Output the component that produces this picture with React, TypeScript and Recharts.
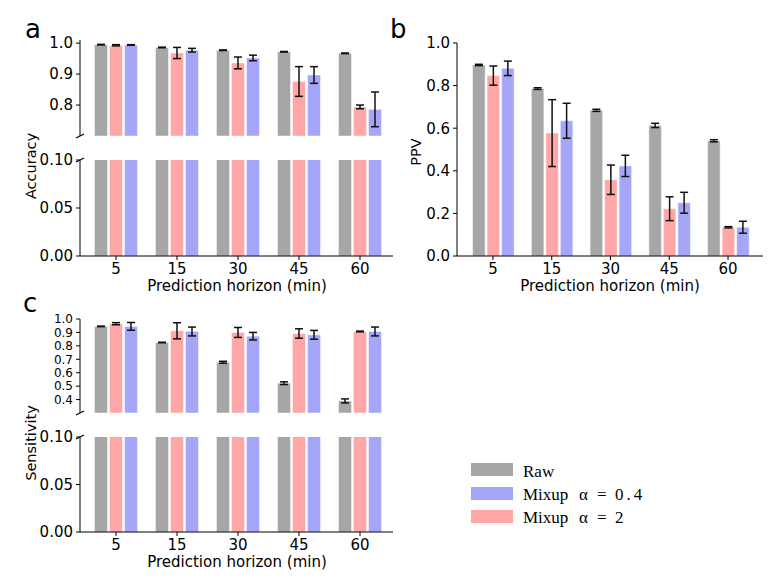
import React from 'react';
import { BarChart, Bar, XAxis, YAxis, ErrorBar } from 'recharts';

const horizons = ['5', '15', '30', '45', '60'];

// Panel a: Accuracy
const accRaw = [0.995, 0.986, 0.977, 0.972, 0.967];
const accRawErr = [0.001, 0.001, 0.001, 0.001, 0.001];
const accMix2 = [0.993, 0.968, 0.936, 0.876, 0.794];
const accMix2Err = [0.002, 0.018, 0.019, 0.048, 0.006];
const accMix04 = [0.994, 0.977, 0.952, 0.897, 0.786];
const accMix04Err = [0.001, 0.006, 0.009, 0.027, 0.056];

// Panel b: PPV
const ppvRaw = [0.897, 0.786, 0.684, 0.613, 0.541];
const ppvRawErr = [0.003, 0.004, 0.005, 0.01, 0.005];
const ppvMix2 = [0.847, 0.577, 0.358, 0.222, 0.135];
const ppvMix2Err = [0.045, 0.157, 0.069, 0.056, 0.003];
const ppvMix04 = [0.881, 0.635, 0.423, 0.25, 0.135];
const ppvMix04Err = [0.034, 0.082, 0.05, 0.049, 0.028];

// Panel c: Sensitivity
const senRaw = [0.945, 0.825, 0.678, 0.522, 0.39];
const senRawErr = [0.002, 0.002, 0.007, 0.01, 0.015];
const senMix2 = [0.965, 0.912, 0.9, 0.892, 0.907];
const senMix2Err = [0.008, 0.06, 0.037, 0.035, 0.003];
const senMix04 = [0.945, 0.907, 0.872, 0.882, 0.907];
const senMix04Err = [0.029, 0.033, 0.028, 0.033, 0.033];

const ticksAccUpper = [0.8, 0.9, 1.0];
const ticksLower = [0, 0.05, 0.1];
const ticksPpv = [0, 0.2, 0.4, 0.6, 0.8, 1.0];
const ticksSenUpper = [0.4, 0.5, 0.6, 0.7, 0.8, 0.9, 1.0];

const GRAY = '#a6a6a6';
const PINK = '#ffa6a6';
const BLUE = '#a6a6f9';
const FONT = '"DejaVu Sans", sans-serif';
const SERIF = '"Liberation Serif", "Times New Roman", serif';

function makeRows(
  raw: number[], rawErr: number[], m2: number[], m2Err: number[], m04: number[], m04Err: number[]
) {
  return horizons.map((h, i) => ({
    h,
    raw: raw[i], rawErr: rawErr[i],
    mix2: m2[i], mix2Err: m2Err[i],
    mix04: m04[i], mix04Err: m04Err[i],
  }));
}

const accRows = makeRows(accRaw, accRawErr, accMix2, accMix2Err, accMix04, accMix04Err);
const ppvRows = makeRows(ppvRaw, ppvRawErr, ppvMix2, ppvMix2Err, ppvMix04, ppvMix04Err);
const senRows = makeRows(senRaw, senRawErr, senMix2, senMix2Err, senMix04, senMix04Err);

type PanelProps = {
  data: any[];
  plotLeft: number;
  plotTop: number;
  plotRight: number;
  plotBottom: number;
  domain: [number, number];
  ticks: number[];
  digits: number;
  showX: boolean;
  padding: { left: number; right: number };
  barSize: number;
  errors: boolean;
  yFont?: number;
};

function Panel(p: PanelProps) {
  const YW = 60;
  const XH = 30;
  const plotW = p.plotRight - p.plotLeft;
  const plotH = p.plotBottom - p.plotTop;
  const width = YW + plotW + 10;
  const height = 10 + plotH + (p.showX ? XH : 10);
  const xTick = { fontSize: 15, fill: '#000', fontFamily: FONT };
  const yTick = { fontSize: p.yFont ?? 15, fill: '#000', fontFamily: FONT };
  const err = (key: string) =>
    p.errors ? (
      <ErrorBar dataKey={key} width={4} strokeWidth={1.5} stroke="#111" direction="y" />
    ) : null;
  return (
    <div style={{ position: 'absolute', left: p.plotLeft - YW, top: p.plotTop - 10 }}>
      <BarChart
        width={width}
        height={height}
        data={p.data}
        margin={{ top: 10, right: 10, left: 0, bottom: p.showX ? 0 : 10 }}
        barGap={2}
        barSize={p.barSize}
      >
        <XAxis
          dataKey="h"
          hide={!p.showX}
          height={XH}
          padding={p.padding}
          interval={0}
          tickSize={4}
          tickMargin={3}
          tick={xTick}
          tickLine={{ stroke: '#000' }}
          axisLine={{ stroke: '#000' }}
        />
        <YAxis
          type="number"
          width={YW}
          domain={p.domain}
          allowDataOverflow
          ticks={p.ticks}
          interval={0}
          tickFormatter={(v: number) => v.toFixed(p.digits)}
          tickSize={4}
          tickMargin={3}
          tick={yTick}
          tickLine={{ stroke: '#000' }}
          axisLine={{ stroke: '#000' }}
        />
        <Bar dataKey="raw" fill={GRAY} stroke="#ffffff" strokeOpacity={0.45} isAnimationActive={false}>
          {err('rawErr')}
        </Bar>
        <Bar dataKey="mix2" fill={PINK} stroke="#ffffff" strokeOpacity={0.45} isAnimationActive={false}>
          {err('mix2Err')}
        </Bar>
        <Bar dataKey="mix04" fill={BLUE} stroke="#ffffff" strokeOpacity={0.45} isAnimationActive={false}>
          {err('mix04Err')}
        </Bar>
      </BarChart>
    </div>
  );
}

const padAC = { left: 5.5, right: 2.5 };
const padB = { left: 6.6, right: 5.6 };

function BreakMarks({ x, yUpper, yLower }: { x: number; yUpper: number; yLower: number }) {
  return (
    <g stroke="#000" strokeWidth={1.1}>
      <line x1={x - 4} y1={yUpper + 2} x2={x + 4} y2={yUpper - 2} />
      <line x1={x - 4} y1={yLower + 2} x2={x + 4} y2={yLower - 2} />
    </g>
  );
}

export default function App() {
  return (
    <div style={{ position: 'absolute', left: 0, top: 0, width: 776, height: 578, background: '#fff', overflow: 'hidden' }}>
      {/* Panel a */}
      <Panel data={accRows} plotLeft={80} plotTop={40} plotRight={393} plotBottom={136}
        domain={[0.7, 1.01]} ticks={ticksAccUpper} digits={1} showX={false} padding={padAC} barSize={13} errors />
      <Panel data={accRows} plotLeft={80} plotTop={160} plotRight={393} plotBottom={256}
        domain={[0, 0.1]} ticks={ticksLower} digits={2} showX padding={padAC} barSize={13} errors={false} />
      {/* Panel b */}
      <Panel data={ppvRows} plotLeft={457} plotTop={43} plotRight={763} plotBottom={256}
        domain={[0, 1.0]} ticks={ticksPpv} digits={1} showX padding={padB} barSize={12.5} errors />
      {/* Panel c */}
      <Panel data={senRows} plotLeft={80} plotTop={319} plotRight={393} plotBottom={413}
        domain={[0.3, 1.0]} ticks={ticksSenUpper} digits={1} showX={false} padding={padAC} barSize={13} errors yFont={12} />
      <Panel data={senRows} plotLeft={80} plotTop={437} plotRight={393} plotBottom={532}
        domain={[0, 0.1]} ticks={ticksLower} digits={2} showX padding={padAC} barSize={13} errors={false} />

      <svg width={776} height={578} style={{ position: 'absolute', left: 0, top: 0, pointerEvents: 'none' }}>
        <BreakMarks x={80} yUpper={136} yLower={160} />
        <BreakMarks x={80} yUpper={413} yLower={437} />

        <g fontFamily={FONT} fill="#000">
          <text x={25} y={38} fontSize={26}>a</text>
          <text x={390} y={38} fontSize={26}>b</text>
          <text x={23} y={312} fontSize={26}>c</text>

          <text x={36} y={166} fontSize={14.5} textAnchor="middle" transform="rotate(-90 36 166)">Accuracy</text>
          <text x={421} y={152} fontSize={14.5} textAnchor="middle" transform="rotate(-90 421 152)">PPV</text>
          <text x={36} y={443} fontSize={14.5} textAnchor="middle" transform="rotate(-90 36 443)">Sensitivity</text>

          <text x={237} y={291} fontSize={15} textAnchor="middle">Prediction horizon (min)</text>
          <text x={610} y={291} fontSize={15} textAnchor="middle">Prediction horizon (min)</text>
          <text x={237} y={567} fontSize={15} textAnchor="middle">Prediction horizon (min)</text>
        </g>

        <g>
          <rect x={471} y={463} width={42} height={13} fill={GRAY} />
          <rect x={471} y={487} width={42} height={13} fill={BLUE} />
          <rect x={471} y={510} width={42} height={13} fill={PINK} />
        </g>
        <g fontFamily={SERIF} fontSize={17} fill="#000">
          <text x={523} y={477}>Raw</text>
          <text y={500}>
            <tspan x={523}>Mixup</tspan>
            <tspan x={579}>α</tspan>
            <tspan x={597}>=</tspan>
            <tspan x={615} letterSpacing={3}>0.4</tspan>
          </text>
          <text y={523}>
            <tspan x={523}>Mixup</tspan>
            <tspan x={579}>α</tspan>
            <tspan x={597}>=</tspan>
            <tspan x={615}>2</tspan>
          </text>
        </g>
      </svg>
    </div>
  );
}
